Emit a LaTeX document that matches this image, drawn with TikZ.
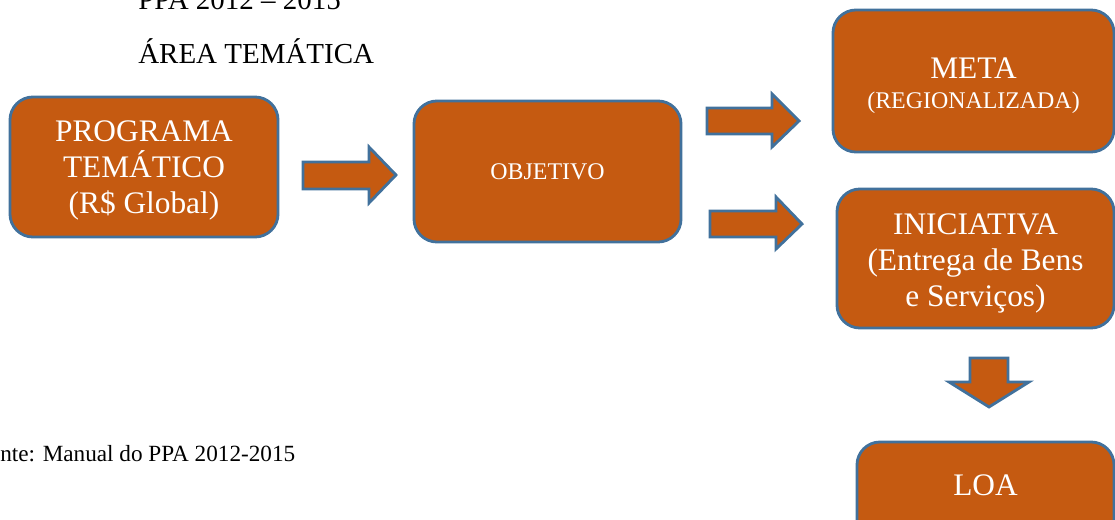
\documentclass[tikz,border=0pt]{standalone}
\usepackage{fontspec}
\setmainfont{Liberation Serif}
\usetikzlibrary{positioning}
\definecolor{myorange}{RGB}{197,90,17}
\definecolor{myblue}{RGB}{65,113,156}

\begin{document}
\begin{tikzpicture}[x=0.025cm,y=-0.025cm,every node/.style={inner sep=0}]
\tikzstyle{bx}=[rectangle,rounded corners=0.575cm,draw=myblue,line width=2pt,fill=myorange,text=white,align=center,font=\fontsize{22.3}{25.6}\selectfont]
\tikzstyle{ar}=[draw=myblue,line width=2pt,fill=myorange,line join=miter]
\useasboundingbox (0,0) rectangle (1115,519);
\clip (0,0) rectangle (1115,519);
% titulo
\node[anchor=base west,font=\fontsize{20.6}{25}\selectfont] (ppa) at (138,10) {PPA 2012 – 2015};
\node[anchor=base west,font=\fontsize{20.6}{25}\selectfont] (area) at (138,63) {ÁREA TEMÁTICA};
% caixas
\node[bx,minimum width=6.7cm,minimum height=3.5cm] (prog) at (144,167) {\rule{0pt}{19.6pt}PROGRAMA\\TEMÁTICO\\(R\$ Global)};
\node[bx,minimum width=6.675cm,minimum height=3.525cm,font=\fontsize{17}{20}\selectfont] (obj) at (547.5,171.5) {OBJETIVO};
\node[bx,minimum width=7.025cm,minimum height=3.55cm,font=\fontsize{22.3}{21.3}\selectfont] (meta) at (973.5,81) {\rule{0pt}{22pt}META\\{\fontsize{17}{21.3}\selectfont (REGIONALIZADA)}};
\node[bx,minimum width=6.925cm,minimum height=3.475cm] (inic) at (975.5,258.5) {\rule{0pt}{22pt}INICIATIVA\\(Entrega de Bens\\e Serviços)};
\node[bx,minimum width=6.425cm,minimum height=3.5cm,text height=14.8pt,text depth=37.6pt] (loa) at (985.5,512) {LOA};
% setas
\draw[ar] (303,162) -- (369,162) -- (369,147) -- (396,175) -- (369,203) -- (369,189) -- (303,189) -- cycle;
\draw[ar] (707,108) -- (772,108) -- (772,94) -- (799,121) -- (772,147) -- (772,134) -- (707,134) -- cycle;
\draw[ar] (710,211) -- (776,211) -- (776,197) -- (802,224) -- (776,249) -- (776,237) -- (710,237) -- cycle;
\draw[ar] (970,358) -- (1008,358) -- (1008,382) -- (1029,382) -- (989,407) -- (949,382) -- (970,382) -- cycle;
% fonte
\node[anchor=base west,font=\fontsize{16.5}{20}\selectfont] (fonte) at (0,461) {nte: Manual do PPA 2012-2015};
\end{tikzpicture}
\end{document}
